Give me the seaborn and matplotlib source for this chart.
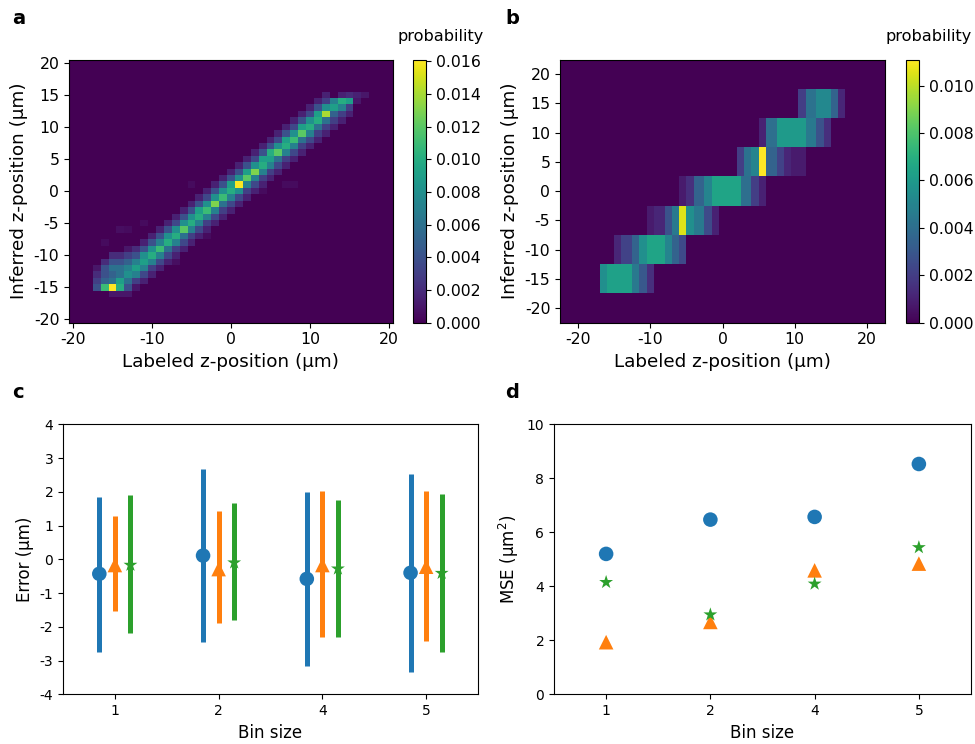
import numpy as np
import pandas as pd
import matplotlib
matplotlib.use("Agg")
import matplotlib.pyplot as plt
import seaborn as sns
from matplotlib.ticker import FixedLocator, FormatStrFormatter

plt.rcParams["axes.unicode_minus"] = False
plt.rcParams["font.family"] = ["DejaVu Sans"]

# ---------------- Panel a: 1 µm bins (values in units of 1e-3) ----------------
a_cols = [-17, -16, -15, -14, -13, -12, -11, -10, -9, -8, -7, -6, -5, -4, -3, -2, -1,
          0, 1, 2, 3, 4, 5, 6, 7, 8, 9, 10, 11, 12, 13, 14, 15, 16, 17]
a_y0 = [-15, -15, -16, -16, -16, -15, -14, -13, -12, -11, -10, -9, -8, -7, -6, -5, -4,
        -3, -2, -1, 0, 1, 2, 3, 4, 5, 6, 7, 8, 9, 10, 11, 12, 14, 15]
a_vals = [
    [4, 3, 2, 1],
    [11, 5, 4, 4, 2],
    [1, 16.1, 6, 5, 6, 4, 2],
    [1, 10, 9, 6, 6, 4, 2],
    [1, 4, 6, 8, 7, 5, 3, 1],
    [1, 3, 7, 9, 7, 4, 2],
    [1.5, 3.5, 7, 9, 8, 4, 1.5],
    [1.5, 3, 7, 10, 8, 4, 1.5],
    [1.5, 3.5, 7, 11, 7, 4, 1.5],
    [1.5, 3.5, 6, 10, 8, 4, 1.5],
    [1.5, 3, 7, 10, 8, 3.5, 1.5],
    [1.5, 3.5, 6, 12, 8, 4, 1.5],
    [1.5, 3, 7, 10, 8, 4, 1.5],
    [1.5, 3.5, 7, 10, 9, 4, 1.5],
    [1.5, 3, 7, 11, 8, 3.5, 1.5],
    [1.5, 3.5, 7, 13, 8, 4, 1.5],
    [1.5, 3, 6, 11, 8, 4, 1.5],
    [1.5, 3.5, 7, 10, 9, 4, 1.5],
    [1.5, 3.5, 8, 16, 8, 4, 1.5],
    [1.5, 3, 7, 12, 9, 4, 1.5],
    [1.5, 3.5, 7, 13, 8, 3.5, 1.5],
    [1.5, 3, 7, 10, 9, 4, 1.5],
    [1.5, 3, 7, 9, 10, 4, 1.5],
    [1.5, 3.5, 6, 12, 8, 3.5, 1.5],
    [1.5, 3, 7, 10, 9, 4, 1.5],
    [1.5, 3.5, 7, 11, 8, 3.5, 1.5],
    [1.5, 3, 6, 12, 9, 4, 1.5],
    [1.5, 3.5, 7, 10, 8, 3.5, 1.5],
    [1.5, 3, 6, 10, 9, 4, 1.5],
    [1.5, 3, 6, 14, 8, 3, 1.5],
    [1.5, 3, 5, 9, 7],
    [1.5, 3, 7, 10, 1.5],
    [1.5, 3, 9, 2],
    [1, 1.5],
    [1],
]
a_faint_x = [-16, -14, -13, -11, -5, 7, 8, -7, -3, 4]
a_faint_y = [-8, -6, -6, -5, 1, 1, 1, -11, -7, 0]
a_faint_v = [0.5, 0.6, 0.5, 0.5, 0.5, 0.5, 0.5, 0.6, 0.5, 0.5]

# ---------------- Panel b: 5 µm inferred bins, segments along labeled z ----------------
b_rows = [-15, -10, -5, 0, 5, 10, 15]
b_edges = [
    [-17, -16, -12.5, -11.5, -10.5, -9.5],
    [-15, -14, -12.5, -11.5, -10.5, -8, -7, -6, -5],
    [-10.5, -9.5, -8, -7, -6, -5, -4, -2.5, -1.5, -0.5],
    [-6, -5, -4, -2.5, -1.5, 2.5, 4, 5, 6],
    [2, 3, 4, 5, 6, 7.5, 8.5, 9.5, 11.5],
    [5, 6, 7.5, 11.5, 13, 14, 15],
    [10.5, 11.5, 13, 15, 16, 17],
]
b_vals = [
    [5.5, 6.3, 4.5, 3.0, 1.5],
    [1.2, 2.2, 3.5, 5.5, 6.5, 5.0, 3.5, 2.5],
    [0.8, 1.2, 2.8, 4.5, 10.5, 5.5, 4.5, 2.5, 1.0],
    [0.8, 1.5, 3.5, 5.0, 6.5, 4.0, 2.0, 1.0],
    [2.0, 4.2, 5.0, 11.1, 3.5, 2.2, 1.2, 0.8],
    [1.0, 4.0, 6.0, 4.5, 2.8, 1.5],
    [2.0, 4.2, 5.2, 3.5, 1.2],
]

# ---------------- Panels c and d ----------------
bin_labels = ["1", "2", "4", "5"]
series_names = ["s1", "s2", "s3"]
series_colors = ["#1f77b4", "#ff7f0e", "#2ca02c"]
series_markers = ["o", "^", "*"]

c_mean = [[-0.43, 0.11, -0.58, -0.40],
          [-0.17, -0.29, -0.17, -0.22],
          [-0.17, -0.10, -0.28, -0.41]]
c_low = [[-2.74, -2.44, -3.16, -3.34],
         [-1.53, -1.88, -2.30, -2.41],
         [-2.17, -1.80, -2.30, -2.74]]
c_high = [[1.85, 2.68, 2.00, 2.53],
          [1.28, 1.43, 2.02, 2.02],
          [1.91, 1.67, 1.76, 1.94]]

d_mse = [[5.20, 6.47, 6.57, 8.53],
         [1.93, 2.68, 4.59, 4.84],
         [4.15, 2.95, 4.09, 5.44]]

# ---------------- build matrices ----------------
mat_a = np.zeros((41, 41))
for x, y0, vals in zip(a_cols, a_y0, a_vals):
    for k, v in enumerate(vals):
        y = y0 + k
        if -20 <= y <= 20:
            mat_a[20 - y, x + 20] = v * 1e-3
for x, y, v in zip(a_faint_x, a_faint_y, a_faint_v):
    mat_a[20 - y, x + 20] = max(mat_a[20 - y, x + 20], v * 1e-3)

xc_b = -22.25 + 0.5 * np.arange(90)
mat_b = np.zeros((9, 90))
for yr, edges, vals in zip(b_rows, b_edges, b_vals):
    r = int((20 - yr) / 5)
    for x0, x1, v in zip(edges[:-1], edges[1:], vals):
        sel = (xc_b > x0) & (xc_b < x1)
        mat_b[r, sel] = v * 1e-3

W, H = 975, 744
fig = plt.figure(figsize=(W / 100, H / 100), dpi=100)


def box(l, t, r, b):
    return [l / W, 1 - b / H, (r - l) / W, (b - t) / H]


ax_a = fig.add_axes(box(69, 59.5, 393, 322.7))
cax_a = fig.add_axes(box(413, 59.5, 426, 322.7))
ax_b = fig.add_axes(box(560, 59.5, 885, 322.7))
cax_b = fig.add_axes(box(906, 59.5, 919, 322.7))
ax_c = fig.add_axes(box(63, 424.3, 478, 694.3))
ax_d = fig.add_axes(box(554, 424.3, 971, 694.3))

TOP_TICK = 11.3
TOP_LABEL = 13.2

# --- heatmap a ---
sns.heatmap(mat_a, ax=ax_a, cmap="viridis", vmin=0, vmax=0.0161, cbar_ax=cax_a,
            xticklabels=False, yticklabels=False)
ticks_a = [-20, -10, 0, 10, 20]
ax_a.set_xticks([v + 20.5 for v in ticks_a])
ax_a.set_xticklabels([str(v) for v in ticks_a], rotation=0)
yt_a = list(range(20, -21, -5))
ax_a.set_yticks([20.5 - v for v in yt_a])
ax_a.set_yticklabels([str(v) for v in yt_a], rotation=0)
ax_a.set_xlabel("Labeled z-position (µm)", fontsize=TOP_LABEL)
ax_a.set_ylabel("Inferred z-position (µm)", fontsize=TOP_LABEL)

# --- heatmap b ---
sns.heatmap(mat_b, ax=ax_b, cmap="viridis", vmin=0, vmax=0.0111, cbar_ax=cax_b,
            xticklabels=False, yticklabels=False)
ax_b.set_xticks([2 * v + 45 for v in ticks_a])
ax_b.set_xticklabels([str(v) for v in ticks_a], rotation=0)
ax_b.set_yticks([(22.5 - v) / 5 for v in yt_a])
ax_b.set_yticklabels([str(v) for v in yt_a], rotation=0)
ax_b.set_xlabel("Labeled z-position (µm)", fontsize=TOP_LABEL)
ax_b.set_ylabel("Inferred z-position (µm)", fontsize=TOP_LABEL)

for ax, cax, cticks in [(ax_a, cax_a, np.arange(0, 0.0161, 0.002)),
                        (ax_b, cax_b, np.arange(0, 0.0101, 0.002))]:
    for s in ax.spines.values():
        s.set_visible(True)
        s.set_linewidth(0.8)
        s.set_color("black")
    ax.tick_params(length=3.5, width=0.8, labelsize=TOP_TICK, color="black")
    cb = ax.collections[0].colorbar
    cb.outline.set_visible(True)
    cb.outline.set_linewidth(0.8)
    cax.yaxis.set_major_locator(FixedLocator(cticks))
    cax.yaxis.set_major_formatter(FormatStrFormatter("%.3f"))
    cax.tick_params(length=3.5, width=0.8, labelsize=TOP_TICK)

fig.text(441 / W, 1 - 36 / H, "probability", ha="center", va="center", fontsize=11.6)
fig.text(929 / W, 1 - 36 / H, "probability", ha="center", va="center", fontsize=11.6)

# --- panel c ---
offsets = [-0.15, 0.0, 0.15]
rows = []
for i, name in enumerate(series_names):
    pos = np.arange(len(bin_labels)) + offsets[i]
    ax_c.vlines(pos, c_low[i], c_high[i], colors=series_colors[i], linewidth=3.6, zorder=2)
    for j in range(len(bin_labels)):
        rows.append({"x": pos[j], "err": c_mean[i][j], "series": name})
df_c = pd.DataFrame(rows)
sns.scatterplot(data=df_c, x="x", y="err", hue="series", style="series",
                palette=dict(zip(series_names, series_colors)),
                markers=dict(zip(series_names, series_markers)),
                s=110, linewidth=0, legend=False, ax=ax_c, zorder=3)
ax_c.set_xlim(-0.5, 3.5)
ax_c.set_ylim(-4, 4)
ax_c.set_yticks(range(-4, 5))
ax_c.set_xticks(range(4))
ax_c.set_xticklabels(bin_labels)
ax_c.set_xlabel("Bin size", fontsize=12)
ax_c.set_ylabel("Error (µm)", fontsize=12)

# --- panel d ---
rows = []
for i, name in enumerate(series_names):
    for j in range(len(bin_labels)):
        rows.append({"x": j, "mse": d_mse[i][j], "series": name})
df_d = pd.DataFrame(rows)
sns.scatterplot(data=df_d, x="x", y="mse", hue="series", style="series",
                palette=dict(zip(series_names, series_colors)),
                markers=dict(zip(series_names, series_markers)),
                s=110, linewidth=0, legend=False, ax=ax_d, zorder=3)
ax_d.set_xlim(-0.5, 3.5)
ax_d.set_ylim(0, 10)
ax_d.set_yticks(range(0, 11, 2))
ax_d.set_xticks(range(4))
ax_d.set_xticklabels(bin_labels)
ax_d.set_xlabel("Bin size", fontsize=12)
ax_d.set_ylabel("MSE (µm$^2$)", fontsize=12)

for ax in (ax_c, ax_d):
    ax.tick_params(labelsize=10, length=3.5, width=0.8)
    for s in ax.spines.values():
        s.set_linewidth(0.8)

for lbl, x, y in [("a", 12, 19), ("b", 505, 19), ("c", 12, 393), ("d", 505, 393)]:
    fig.text(x / W, 1 - y / H, lbl, ha="left", va="center", fontsize=14, fontweight="bold")

fig.savefig("out.png", dpi=100)
